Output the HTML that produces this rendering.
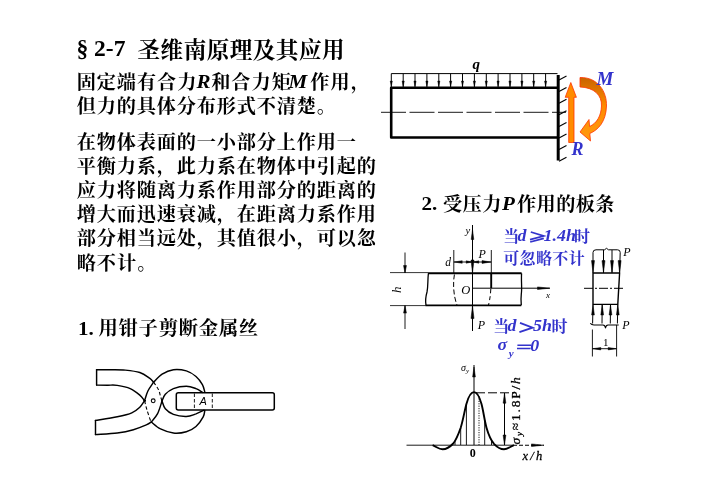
<!DOCTYPE html>
<html lang="zh"><head><meta charset="utf-8"><title>§ 2-7 圣维南原理及其应用</title>
<style>
html,body{margin:0;padding:0;background:#fff;}
body{width:702px;height:496px;overflow:hidden;font-family:"Liberation Serif",serif;}
svg{display:block;position:absolute;left:0;top:0;will-change:transform;filter:blur(0.45px);}
</style></head><body>
<svg width="702" height="496" viewBox="0 0 702 496" stroke-linejoin="round">
<g id="diagrams">
<g stroke="#000" fill="none">
<path d="M391.3 88V73.6H557.5" stroke-width="1"/>
<path d="M403.2 73.6V87" stroke-width="1"/>
<path d="M415.0 73.6V87" stroke-width="1"/>
<path d="M426.9 73.6V87" stroke-width="1"/>
<path d="M438.8 73.6V87" stroke-width="1"/>
<path d="M450.6 73.6V87" stroke-width="1"/>
<path d="M462.5 73.6V87" stroke-width="1"/>
<path d="M474.4 73.6V87" stroke-width="1"/>
<path d="M486.3 73.6V87" stroke-width="1"/>
<path d="M498.1 73.6V87" stroke-width="1"/>
<path d="M510.0 73.6V87" stroke-width="1"/>
<path d="M521.9 73.6V87" stroke-width="1"/>
<path d="M533.7 73.6V87" stroke-width="1"/>
<path d="M545.6 73.6V87" stroke-width="1"/>
<path d="M391.3 86.5L390.2 81H392.4Z" fill="#000" stroke-width="0.4"/>
<path d="M403.2 86.5L402.1 81H404.3Z" fill="#000" stroke-width="0.4"/>
<path d="M415.0 86.5L413.9 81H416.1Z" fill="#000" stroke-width="0.4"/>
<path d="M426.9 86.5L425.8 81H428.0Z" fill="#000" stroke-width="0.4"/>
<path d="M438.8 86.5L437.7 81H439.9Z" fill="#000" stroke-width="0.4"/>
<path d="M450.6 86.5L449.5 81H451.8Z" fill="#000" stroke-width="0.4"/>
<path d="M462.5 86.5L461.4 81H463.6Z" fill="#000" stroke-width="0.4"/>
<path d="M474.4 86.5L473.3 81H475.5Z" fill="#000" stroke-width="0.4"/>
<path d="M486.3 86.5L485.2 81H487.4Z" fill="#000" stroke-width="0.4"/>
<path d="M498.1 86.5L497.0 81H499.2Z" fill="#000" stroke-width="0.4"/>
<path d="M510.0 86.5L508.9 81H511.1Z" fill="#000" stroke-width="0.4"/>
<path d="M521.9 86.5L520.8 81H523.0Z" fill="#000" stroke-width="0.4"/>
<path d="M533.7 86.5L532.6 81H534.8Z" fill="#000" stroke-width="0.4"/>
<path d="M545.6 86.5L544.5 81H546.7Z" fill="#000" stroke-width="0.4"/>
<path d="M558 87.8H391.2V137.5H558" stroke-width="2.6"/>
<path d="M381 112.3H566" stroke-width="0.9" stroke-dasharray="25 3.5"/>
<path d="M558.2 75V160.5" stroke-width="3"/>
<path d="M559 80.0L566.5 76.0" stroke-width="1.1"/>
<path d="M559 91.6L566.5 87.6" stroke-width="1.1"/>
<path d="M559 103.2L566.5 99.2" stroke-width="1.1"/>
<path d="M559 114.8L566.5 110.8" stroke-width="1.1"/>
<path d="M559 126.4L566.5 122.4" stroke-width="1.1"/>
<path d="M559 138.0L566.5 134.0" stroke-width="1.1"/>
<path d="M559 149.6L566.5 145.6" stroke-width="1.1"/>
<path d="M559 161.2L566.5 157.2" stroke-width="1.1"/>
</g>
<text x="472.6" y="69" font-family="Liberation Serif" font-size="15" font-weight="bold" font-style="italic">q</text>
<defs><linearGradient id="og" x1="0" y1="0" x2="0" y2="1"><stop offset="0" stop-color="#c86400"/><stop offset="0.45" stop-color="#ff8a00"/><stop offset="1" stop-color="#ff9a10"/></linearGradient></defs>
<path d="M570.8 82.5L576.4 97.3H574V142.5H568.7V97.3H565.2Z" fill="#ff8c00" stroke="#ff3300" stroke-width="0.8" stroke-linejoin="round"/>
<path d="M580 77.5C598 77 607 92 606.5 106C606 122 598 130 589.8 133.5L590.5 141L580 132L589 119.5L589.6 126.5C597 123 601 116 601.5 106C602 95 594 87.5 580 87Z" fill="url(#og)" stroke="#ff3300" stroke-width="0.8" stroke-linejoin="round"/>
<text x="596.6" y="84.7" font-family="Liberation Serif" font-size="19" font-weight="bold" font-style="italic" fill="#3333cc">M</text>
<text x="571.5" y="154.5" font-family="Liberation Serif" font-size="18" font-weight="bold" font-style="italic" fill="#3333cc">R</text>
<g stroke="#000" fill="none" stroke-linecap="butt">
<path d="M390 272.6H428M390 305.6H426" stroke-width="0.8"/>
<path d="M428 273.2H521.6M425.6 305.4H521.3" stroke-width="1.9"/>
<path d="M428.4 273.4C427.6 280 428.2 286 427 292C425.6 297 425.2 301 426 305.2" stroke-width="1.3"/>
<path d="M521.6 273.4C521 280 522.2 288 521.3 294C520.7 299 521 302 521.3 305.2" stroke-width="1.3"/>
<path d="M405 252.5V273M405 305.5V329" stroke-width="0.9"/>
<path d="M472.5 225V331" stroke-width="1"/>
<path d="M472.5 288.2H550" stroke-width="1"/>
<path d="M453.8 250V273M491.3 250V273" stroke-width="0.9"/>
<path d="M491.2 273V288.2" stroke-width="1.9"/>
<path d="M453.8 262H491.3" stroke-width="0.9"/>
<path d="M454.4 274.5C452.8 284 453.5 296 457 305" stroke-width="1" stroke-dasharray="5 2.5"/>
<path d="M490.8 289C490.5 296 489.5 301 488.5 305" stroke-width="1" stroke-dasharray="4 3"/>
</g>
<path d="M405.00 273.00L403.55 265.50L406.45 265.50Z" fill="#000" stroke="#000" stroke-width="0.5" stroke-linejoin="miter"/>
<path d="M405.00 305.60L406.45 313.10L403.55 313.10Z" fill="#000" stroke="#000" stroke-width="0.5" stroke-linejoin="miter"/>
<path d="M472.50 229.50L473.80 239.50L471.20 239.50Z" fill="#000" stroke="#000" stroke-width="0.5" stroke-linejoin="miter"/>
<path d="M472.50 273.00L471.00 260.00L474.00 260.00Z" fill="#000" stroke="#000" stroke-width="0.5" stroke-linejoin="miter"/>
<path d="M472.50 305.60L474.00 318.60L471.00 318.60Z" fill="#000" stroke="#000" stroke-width="0.5" stroke-linejoin="miter"/>
<path d="M549.50 288.20L537.50 289.50L537.50 286.90Z" fill="#000" stroke="#000" stroke-width="0.5" stroke-linejoin="miter"/>
<path d="M454.20 262.00L462.20 260.70L462.20 263.30Z" fill="#000" stroke="#000" stroke-width="0.5" stroke-linejoin="miter"/>
<path d="M472.20 262.00L466.20 263.20L466.20 260.80Z" fill="#000" stroke="#000" stroke-width="0.5" stroke-linejoin="miter"/>
<path d="M472.80 262.00L478.80 260.80L478.80 263.20Z" fill="#000" stroke="#000" stroke-width="0.5" stroke-linejoin="miter"/>
<path d="M491.00 262.00L482.00 263.40L482.00 260.60Z" fill="#000" stroke="#000" stroke-width="0.5" stroke-linejoin="miter"/>
<text x="465.5" y="233.5" font-family="Liberation Serif" font-size="10.5" font-style="italic">y</text>
<text x="478.5" y="257.8" font-family="Liberation Serif" font-size="12" font-style="italic">P</text>
<text x="477.8" y="329.3" font-family="Liberation Serif" font-size="12" font-style="italic">P</text>
<text x="445.2" y="266.2" font-family="Liberation Serif" font-size="11.5" font-style="italic">d</text>
<text x="461.2" y="294.2" font-family="Liberation Serif" font-size="12.5" font-style="italic">O</text>
<text x="546" y="298" font-family="Liberation Serif" font-size="9" font-style="italic">x</text>
<text transform="translate(401.2,293) rotate(-90)" font-family="Liberation Serif" font-size="13" font-style="italic">h</text>
<g stroke="#000" fill="none">
<path d="M593 273H619.6L617.8 304.4H593Z" stroke-width="1.4"/>
<path d="M584 288.3H625" stroke-width="1" stroke-dasharray="9 2 2 2"/>
<path d="M593 273V252.5Q593 249.8 596 249.8H604.5L606.5 248.3L608.5 249.8H617.5Q620.3 249.8 620.2 252.5L619.6 273" stroke-width="1"/>
<path d="M603.5 250V273M612 250V273" stroke-width="1"/>
<path d="M593 304.5L592.6 323.5" stroke-width="1"/>
<path d="M602.2 304.5L602 323.5" stroke-width="1"/>
<path d="M610.5 304.5L610.3 323.5" stroke-width="1"/>
<path d="M617.8 304.5L617.4 323.5" stroke-width="1"/>
<path d="M590.3 323.3Q591.5 325 594 325H603Q605 325 605.5 328Q606 325 608 325H618.7" stroke-width="1.1"/>
<path d="M592.4 329.5V356.5M616.6 325V356.5M592.4 348.7H616.6" stroke-width="0.9"/>
</g>
<path d="M593.00 272.60L591.50 260.60L594.50 260.60Z" fill="#000" stroke="#000" stroke-width="0.5" stroke-linejoin="miter"/>
<path d="M603.50 272.60L602.00 260.60L605.00 260.60Z" fill="#000" stroke="#000" stroke-width="0.5" stroke-linejoin="miter"/>
<path d="M612.00 272.60L610.50 260.60L613.50 260.60Z" fill="#000" stroke="#000" stroke-width="0.5" stroke-linejoin="miter"/>
<path d="M619.60 272.60L618.10 260.60L621.10 260.60Z" fill="#000" stroke="#000" stroke-width="0.5" stroke-linejoin="miter"/>
<path d="M593.00 305.00L594.40 315.00L591.60 315.00Z" fill="#000" stroke="#000" stroke-width="0.5" stroke-linejoin="miter"/>
<path d="M602.20 305.00L603.60 315.00L600.80 315.00Z" fill="#000" stroke="#000" stroke-width="0.5" stroke-linejoin="miter"/>
<path d="M610.50 305.00L611.90 315.00L609.10 315.00Z" fill="#000" stroke="#000" stroke-width="0.5" stroke-linejoin="miter"/>
<path d="M617.80 305.00L619.20 315.00L616.40 315.00Z" fill="#000" stroke="#000" stroke-width="0.5" stroke-linejoin="miter"/>
<path d="M592.80 348.70L600.80 347.50L600.80 349.90Z" fill="#000" stroke="#000" stroke-width="0.5" stroke-linejoin="miter"/>
<path d="M616.20 348.70L608.20 349.90L608.20 347.50Z" fill="#000" stroke="#000" stroke-width="0.5" stroke-linejoin="miter"/>
<text x="623.2" y="255.5" font-family="Liberation Serif" font-size="12" font-style="italic">P</text>
<text x="622.2" y="328.5" font-family="Liberation Serif" font-size="12" font-style="italic">P</text>
<text x="603" y="345.8" font-family="Liberation Serif" font-size="11">1</text>
<g stroke="#000" fill="none">
<path d="M406.5 445.2H513" stroke-width="0.9"/>
<path d="M513 445.2H544" stroke-width="1.1" stroke-dasharray="4 2"/>
<path d="M474 365V445" stroke-width="1"/>
<path d="M432.6 445.2C436 446.5 439 449.3 442.6 449.3C447 449.3 450 447 453.2 443.5C456.5 439.5 458.5 434 460.7 427.7C463 420.5 464.5 411 466.4 403.9C468.3 397 470.5 392.1 474 392.1C477.5 392.1 479.6 397 481.5 404C483.4 411 484.5 420.5 486.5 427.7C488.3 434 490.3 439.5 494 443.8C497 447 500 449.3 504 449.3C507.5 449.3 510.5 446.5 514 445.2" stroke-width="1.9"/>
<path d="M455 441V445" stroke-width="0.9"/>
<path d="M460.7 428V445" stroke-width="0.9"/>
<path d="M466.4 404V445" stroke-width="0.9"/>
<path d="M484.7 420V445" stroke-width="0.9"/>
<path d="M491.5 440V445" stroke-width="0.9"/>
<path d="M479 396V445" stroke-width="0.9" stroke-dasharray="1.2 1.2"/>
<path d="M476 392.8H514" stroke-width="1" stroke-dasharray="9 3"/>
<path d="M504.5 393V445" stroke-width="1"/>
</g>
<path d="M474.00 367.00L475.40 377.00L472.60 377.00Z" fill="#000" stroke="#000" stroke-width="0.5" stroke-linejoin="miter"/>
<path d="M504.50 393.20L505.90 403.20L503.10 403.20Z" fill="#000" stroke="#000" stroke-width="0.5" stroke-linejoin="miter"/>
<path d="M504.50 445.00L503.10 435.00L505.90 435.00Z" fill="#000" stroke="#000" stroke-width="0.5" stroke-linejoin="miter"/>
<path d="M543.50 445.20L531.50 446.50L531.50 443.90Z" fill="#000" stroke="#000" stroke-width="0.5" stroke-linejoin="miter"/>
<text x="461" y="371" font-family="Liberation Serif" font-size="10" font-style="italic">σ<tspan font-size="7" dy="2">y</tspan></text>
<text x="469.8" y="457" font-family="Liberation Serif" font-size="12" font-weight="bold">0</text>
<text x="522.5" y="460" font-family="Liberation Serif" font-size="12.5" font-style="italic" letter-spacing="2.2" stroke="#000" stroke-width="0.3">x/h</text>
<text transform="translate(520,444.5) rotate(-90)" font-family="Liberation Serif" font-size="13.5" letter-spacing="1.8" stroke="#000" stroke-width="0.3"><tspan font-style="italic">σ</tspan><tspan font-size="9" dy="2" font-style="italic">y</tspan><tspan dy="-2">≈1.8P/</tspan><tspan font-style="italic">h</tspan></text>
<g stroke="#000" fill="none" stroke-width="1.45" stroke-linejoin="round" stroke-linecap="round">
<path d="M96.6 369.7C98.8 369.7 105.2 369.7 110.0 369.8C114.8 369.9 120.3 369.7 125.3 370.1C130.3 370.6 135.8 371.2 139.8 372.5C143.8 373.8 147.2 376.5 149.5 378.1C151.8 379.7 152.9 381.5 153.6 382.2"/>
<path d="M96.6 385.1C98.5 385.1 104.5 385.1 108.0 385.2C111.5 385.2 113.6 384.8 117.3 385.4C121.0 386.0 126.4 387.0 130.2 388.6C133.9 390.2 137.4 393.1 139.8 395.1C142.2 397.1 143.8 399.8 144.6 400.7"/>
<path d="M96.6 369.7V385.1"/>
<path d="M95.5 420.4C99.1 419.8 111.2 418.1 117.3 416.8C123.3 415.5 128.1 414.4 131.8 412.8C135.6 411.2 137.7 409.2 139.8 407.2C141.9 405.2 143.8 401.8 144.6 400.7"/>
<path d="M95.5 434.6C99.1 434.3 111.0 433.8 117.3 433.0C123.6 432.2 128.6 431.1 133.4 429.7C138.2 428.3 143.3 426.2 146.3 424.9C149.3 423.6 150.5 422.5 151.3 422.0"/>
<path d="M95.5 420.4V434.6"/>
<path d="M153.6 382.2C152.7 383.7 149.4 387.9 147.9 391.0C146.4 394.1 145.2 399.1 144.6 400.7"/>
<path d="M162.0 401.0C161.3 403.1 159.4 410.1 157.6 413.6C155.8 417.1 152.4 420.6 151.3 422.0"/>
<path d="M153.6 382.2C154.4 383.4 157.2 387.0 158.4 389.4C159.6 391.8 160.0 394.8 160.6 396.7C161.2 398.6 161.8 400.3 162.0 401.0" stroke-width="1.1" stroke-dasharray="3.5 2.2" stroke-linecap="butt"/>
<path d="M144.6 400.7C145.0 402.3 146.1 407.2 147.1 410.4C148.1 413.6 149.6 418.1 150.3 420.0C151.0 421.9 151.1 421.7 151.3 422.0" stroke-width="1.1" stroke-dasharray="3.5 2.2" stroke-linecap="butt"/>
<path d="M153.6 382.2C155.0 380.9 158.8 376.2 162.1 374.1C165.4 372.0 169.4 370.2 173.4 369.7C177.4 369.2 182.5 369.8 186.3 370.9C190.1 372.0 193.3 374.2 196.0 376.5C198.7 378.8 200.9 382.0 202.4 384.6C203.9 387.2 204.4 390.8 204.8 392.0"/>
<path d="M162.0 401.0C162.6 399.9 163.4 396.4 165.3 394.3C167.2 392.2 169.9 390.0 173.4 388.6C176.9 387.2 182.5 386.2 186.3 386.2C190.1 386.2 193.3 387.6 196.0 388.6C198.7 389.6 201.5 391.8 202.6 392.4"/>
<path d="M162.0 401.0C162.6 402.3 163.4 406.6 165.3 408.8C167.2 411.0 169.9 413.1 173.4 414.4C176.9 415.7 182.5 416.6 186.3 416.5C190.1 416.4 193.1 414.9 196.0 413.9C198.9 412.8 202.7 410.8 204.0 410.2"/>
<path d="M151.3 422.0C152.8 423.1 156.8 427.1 160.5 428.9C164.2 430.7 169.1 432.5 173.4 433.0C177.7 433.5 182.5 432.8 186.3 431.7C190.1 430.6 193.2 429.0 196.0 426.5C198.8 424.0 201.7 419.5 203.2 416.8C204.7 414.1 204.5 411.5 204.8 410.4"/>
<path d="M178.3 392.8H272.3Q274.3 392.8 274.3 394.8V408Q274.3 410 272.3 410H178.3Q176.3 410 176.3 408V394.8Q176.3 392.8 178.3 392.8Z" stroke-width="1.5"/>
<path d="M194.4 393.5V409.5M212.3 393.5V409.5" stroke-width="0.9" stroke-dasharray="3.5 2" stroke-linecap="butt"/>
<circle cx="153.2" cy="400.8" r="1.9" stroke-width="1.1"/>
<circle cx="144.6" cy="400.7" r="0.9" fill="#000" stroke-width="1"/>
</g>
<text x="199.6" y="405" font-family="Liberation Sans" font-size="11" font-style="italic">A</text>
</g>
<g id="text">
<text transform="translate(76.40,56.37) scale(1.0,1)" font-family="Liberation Serif" font-size="23.54" font-weight="bold" fill="#000">§ 2-7</text>
<g font-family="'Liberation Serif','Noto Serif CJK SC',serif" font-weight="bold" fill="#000">
<text x="137.53" y="58.34" font-size="22.6" textLength="207">圣维南原理及其应用</text>
<text x="76.64" y="88.61" font-size="19.2" textLength="119.7">固定端有合力</text>
<text x="211.14" y="88.61" font-size="19.2" textLength="79.8">和合力矩</text>
<text x="310.14" y="88.61" font-size="19.2" textLength="59.85">作用，</text>
<text x="76.64" y="113.01" font-size="19.2" textLength="259.35">但力的具体分布形式不清楚。</text>
<text x="76.64" y="149.41" font-size="19.2" textLength="279.3">在物体表面的一小部分上作用一</text>
<text x="76.64" y="173.43" font-size="19.2" textLength="299.25">平衡力系，此力系在物体中引起的</text>
<text x="76.64" y="197.45" font-size="19.2" textLength="299.25">应力将随离力系作用部分的距离的</text>
<text x="76.64" y="221.47" font-size="19.2" textLength="299.25">增大而迅速衰减，在距离力系作用</text>
<text x="76.64" y="245.49" font-size="19.2" textLength="299.25">部分相当远处，其值很小，可以忽</text>
<text x="76.64" y="269.51" font-size="19.2" textLength="79.8">略不计。</text>
<text x="98.54" y="335.21" font-size="19.4" textLength="159.6">用钳子剪断金属丝</text>
<text x="442.94" y="210.51" font-size="19.2" textLength="58.5">受压力</text>
<text x="517.04" y="210.51" font-size="19.2" textLength="97.5">作用的板条</text>
</g>
<text transform="translate(196.60,88.00) scale(1.1,1)" font-family="Liberation Serif" font-size="19.14" font-weight="bold" font-style="italic" fill="#000">R</text>
<text transform="translate(288.40,88.00) scale(1.1,1)" font-family="Liberation Serif" font-size="19.14" font-weight="bold" font-style="italic" fill="#000">M</text>
<text transform="translate(78.00,334.50) scale(1.1,1)" font-family="Liberation Serif" font-size="19.14" font-weight="bold" fill="#000">1.</text>
<text transform="translate(421.50,209.90) scale(1.1,1)" font-family="Liberation Serif" font-size="19.14" font-weight="bold" fill="#000">2.</text>
<text transform="translate(502.10,209.90) scale(1.1,1)" font-family="Liberation Serif" font-size="19.14" font-weight="bold" font-style="italic" fill="#000">P</text>
<g transform="translate(0,0.8)">
<text x="503.25" y="240.87" font-family="'Liberation Serif','Noto Serif CJK SC',serif" font-size="16" font-weight="bold" fill="#3333cc">当</text>
<text transform="translate(517.60,239.95) scale(1.1,1)" font-family="Liberation Serif" font-size="16.27" font-weight="bold" font-style="italic" fill="#3333cc">d</text>
<path d="M530.8 231.2L543.6 235.2L530 238.8M543.8 237.6L530.2 241.2" fill="none" stroke="#3333cc" stroke-width="1.8" stroke-linecap="butt" stroke-linejoin="miter"/>
<text transform="translate(543.60,239.95) scale(1.1,1)" font-family="Liberation Serif" font-size="16.27" font-weight="bold" font-style="italic" fill="#3333cc">1.4h</text>
<text x="574.05" y="240.87" font-family="'Liberation Serif','Noto Serif CJK SC',serif" font-size="16" font-weight="bold" fill="#3333cc">时</text>
<text x="503.25" y="262.87" font-family="'Liberation Serif','Noto Serif CJK SC',serif" font-size="16" font-weight="bold" fill="#3333cc" textLength="81.5">可忽略不计</text>
<text x="493.35" y="331.57" font-family="'Liberation Serif','Noto Serif CJK SC',serif" font-size="16" font-weight="bold" fill="#3333cc">当</text>
<text transform="translate(507.60,330.65) scale(1.1,1)" font-family="Liberation Serif" font-size="16.27" font-weight="bold" font-style="italic" fill="#3333cc">d</text>
<path d="M520 322L532.6 326.8L519.4 331.4" fill="none" stroke="#3333cc" stroke-width="1.8" stroke-linecap="butt" stroke-linejoin="miter"/>
<text transform="translate(533.00,330.65) scale(1.1,1)" font-family="Liberation Serif" font-size="16.27" font-weight="bold" font-style="italic" fill="#3333cc">5h</text>
<text x="551.45" y="331.57" font-family="'Liberation Serif','Noto Serif CJK SC',serif" font-size="16" font-weight="bold" fill="#3333cc">时</text>
<text transform="translate(497.60,349.55) scale(1.1,1)" font-family="Liberation Serif" font-size="16.27" font-weight="bold" font-style="italic" fill="#3333cc">σ</text>
<text transform="translate(508.80,356.08) scale(1.1,1)" font-family="Liberation Serif" font-size="10.05" font-weight="bold" font-style="italic" fill="#3333cc">y</text>
<path d="M517.4 344.5H531M517 347.7H530.6" fill="none" stroke="#3333cc" stroke-width="1.5" stroke-linecap="butt" stroke-linejoin="miter"/>
<text transform="translate(530.20,349.75) scale(1.1,1)" font-family="Liberation Serif" font-size="16.27" font-weight="bold" font-style="italic" fill="#3333cc">0</text>
</g>
</g>
</svg>
</body></html>
